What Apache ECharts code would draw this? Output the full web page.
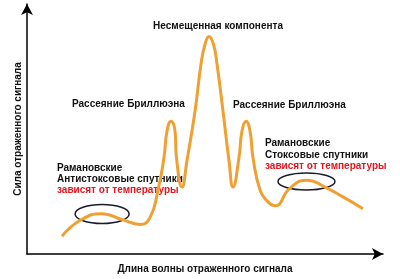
<!DOCTYPE html>
<html><head><meta charset="utf-8">
<script src="https://cdn.jsdelivr.net/npm/echarts@6/dist/echarts.min.js"></script>
<style>html,body{margin:0;padding:0;background:#fff}#c{width:400px;height:279px}</style>
</head><body><div id="c"></div>
<script>
// wavelength (arbitrary units) and reflected signal strength (arbitrary units)
var wavelength = [9.83,14.89,21.07,26.69,31.74,34.55,36.80,38.48,39.33,40.45,41.57,41.99,43.54,44.94,47.19,48.88,50.00,51.12,52.39,53.37,55.06,56.74,57.87,59.55,60.39,61.52,62.64,63.48,65.45,67.42,69.66,73.88,78.65,83.71,88.76,94.38];
var intensity  = [7.09,13.39,16.14,13.78,11.81,14.57,25.59,38.58,49.21,53.15,49.21,38.58,26.77,37.40,57.09,75.98,83.86,87.01,83.86,75.98,57.09,37.40,26.77,38.58,49.21,53.15,49.21,38.58,25.59,21.26,19.29,26.38,29.53,26.77,22.83,18.11];
var xAxisTitle = 'Длина волны отраженного сигнала';
var yAxisTitle = 'Сила отраженного сигнала';
var ellipseCenters = [[21.1,16.0],[78.5,29.0]];

var chart = echarts.init(document.getElementById('c'));
var FONT = '"Liberation Sans", Arial, sans-serif';
chart.setOption({
  animation:false,
  grid:{left:27,right:17,top:4,bottom:21},
  xAxis:{type:'value',min:0,max:100,
    name:xAxisTitle,nameLocation:'middle',nameGap:10,
    nameTextStyle:{fontFamily:FONT,fontWeight:'bold',fontSize:10,color:'#111'},
    axisLine:{show:true,symbol:['none','arrow'],symbolSize:[9,11],lineStyle:{color:'#000',width:1.5}},
    axisTick:{show:false},axisLabel:{show:false},splitLine:{show:false}},
  yAxis:{type:'value',min:0,max:100,
    name:yAxisTitle,nameLocation:'middle',nameGap:4,
    nameTextStyle:{fontFamily:FONT,fontWeight:'bold',fontSize:10,color:'#111'},
    axisLine:{show:true,symbol:['none','arrow'],symbolSize:[9,11],lineStyle:{color:'#000',width:1.5}},
    axisTick:{show:false},axisLabel:{show:false},splitLine:{show:false}},
  series:[{type:'line',smooth:0.5,showSymbol:false,
    data:wavelength.map(function(x,i){return [x,intensity[i]];}),
    lineStyle:{color:'#f0a030',width:3}}]
});

function px(p){return chart.convertToPixel({gridIndex:0},p);}
var c1 = px(ellipseCenters[0]), c2 = px(ellipseCenters[1]);
function txt(x,y,s,color,align){
  return {type:'text',x:x,y:y,style:{text:s,fill:color||'#111',font:'bold 10px '+FONT,
    textAlign:align||'left',textVerticalAlign:'middle'}};
}
chart.setOption({graphic:[
  {type:'ellipse',shape:{cx:c1[0],cy:c1[1],rx:27,ry:9.5},style:{fill:'none',stroke:'#1a1a2a',lineWidth:1.5}},
  {type:'ellipse',shape:{cx:c2[0],cy:c2[1],rx:28.5,ry:8.5},style:{fill:'none',stroke:'#1a1a2a',lineWidth:1.5}},
  txt(218,26,'Несмещенная компонента','#111','center'),
  txt(72,104,'Рассеяние Бриллюэна'),
  txt(233,105,'Рассеяние Бриллюэна'),
  txt(57,168,'Рамановские'),
  txt(57,179,'Антистоксовые спутники'),
  txt(57,190,'зависят от температуры','#e8141c'),
  txt(265,143,'Рамановские'),
  txt(265,155,'Стоксовые спутники'),
  txt(265,166,'зависят от температуры','#e8141c')
]});
</script></body></html>
